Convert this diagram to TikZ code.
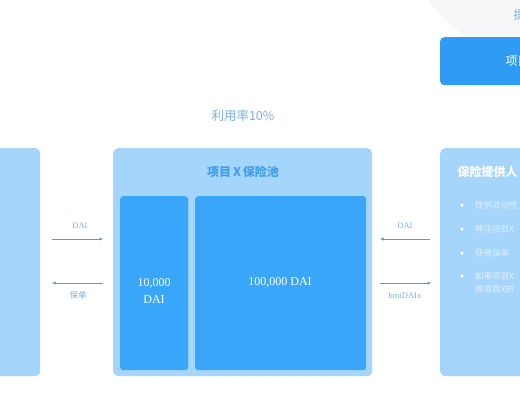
\documentclass[tikz,border=0pt]{standalone}
\usepackage{fontspec}
\setmainfont{Liberation Serif}
\newfontfamily\cjk{Noto Sans CJK SC}
\usetikzlibrary{arrows.meta}
\definecolor{lightbox}{RGB}{166,213,251}
\definecolor{innerbox}{RGB}{58,166,250}
\definecolor{topbtn}{RGB}{47,155,244}
\definecolor{titleblue}{RGB}{61,158,234}
\definecolor{labelblue}{RGB}{120,178,228}
\definecolor{arrowblue}{RGB}{100,150,205}
\definecolor{bggray}{RGB}{244,246,248}
\definecolor{bullettext}{RGB}{226,240,254}
\tikzset{
  panel/.style={fill=lightbox, rounded corners=5pt, draw=none, inner sep=0pt, anchor=north west},
  inner/.style={fill=innerbox, rounded corners=3pt, draw=none, inner sep=0pt, anchor=north west},
  lbl/.style={text=labelblue, font=\fontsize{8.5}{10}\selectfont, inner sep=1pt},
  cjklbl/.style={text=labelblue, font=\cjk\fontsize{8.5}{10}\selectfont, inner sep=1pt},
  flow/.style={draw=arrowblue, line width=0.7pt, -{Latex[length=3.5pt,width=3.5pt]}},
  bulletdot/.style={circle, fill=white, inner sep=0pt, minimum size=3.5pt},
  btext/.style={text=bullettext, font=\cjk\fontsize{8.5}{11}\selectfont, anchor=west, inner sep=0pt}
}
\begin{document}
\begin{tikzpicture}[x=1pt,y=-1pt]
\useasboundingbox (0,0) rectangle (520,400);
\clip (0,0) rectangle (520,400);
\fill[white] (0,0) rectangle (520,400);
% background gray circle
\fill[bggray] (562,-100) circle (167);
\node[text=labelblue, font=\cjk\fontsize{12}{14}\selectfont, anchor=west] (toptext) at (510,15) {提供};
% top button
\node[fill=topbtn, rounded corners=4pt, anchor=north west, minimum width=110pt, minimum height=48pt, inner sep=0pt] (btn) at (440,37) {};
\node[text=white, font=\cjk\fontsize{12}{14}\selectfont, anchor=west] (btntext) at (502,61) {项目X};
% utilisation
\node[text=labelblue, font=\cjk\fontsize{12.5}{14}\selectfont] (util) at (243,116) {利用率10\%};
% left panel
\node[panel, minimum width=60pt, minimum height=228pt] (left) at (-20,148) {};
% middle panel
\node[panel, minimum width=259pt, minimum height=228pt] (pool) at (113,148) {};
\node[text=titleblue, font=\cjk\bfseries\fontsize{12}{14}\selectfont] (pooltitle) at (243,172) {项目\,X\,保险池};
\node[inner, minimum width=68pt, minimum height=174pt] (small) at (120,196) {};
\node[inner, minimum width=171pt, minimum height=174pt] (big) at (195,196) {};
\node[text=white, font=\fontsize{12}{17}\selectfont, align=center] (smalltext) at (154,291) {10,000\\DAI};
\node[text=white, font=\fontsize{12}{14}\selectfont] (bigtext) at (280,282) {100,000 DAI};
% right panel
\node[panel, minimum width=120pt, minimum height=228pt] (right) at (440,148) {};
\node[text=white, font=\cjk\bfseries\fontsize{12}{14}\selectfont, anchor=west] (rtitle) at (454,172) {保险提供人};
\node[bulletdot] (b1) at (462,205) {};
\node[btext] (t1) at (475,205) {提供流动性};
\node[bulletdot] (b2) at (462,229) {};
\node[btext] (t2) at (475,229) {押注项目X};
\node[bulletdot] (b3) at (462,253) {};
\node[btext] (t3) at (475,253) {获得保单};
\node[bulletdot] (b4) at (462,276) {};
\node[btext] (t4) at (475,276) {如果项目X};
\node[btext] (t5) at (475,289) {得项目X的};
% arrows left
\coordinate (la1) at (52,239);
\coordinate (la2) at (103,239);
\coordinate (lb1) at (103,283);
\coordinate (lb2) at (52,283);
\draw[flow] (la1) -- (la2);
\draw[flow] (lb1) -- (lb2);
\node[lbl] (ldai) at (80,226) {DAI};
\node[cjklbl] (lpol) at (78,295) {保单};
% arrows right
\coordinate (ra1) at (430,239);
\coordinate (ra2) at (380,239);
\coordinate (rb1) at (380,283);
\coordinate (rb2) at (431,283);
\draw[flow] (ra1) -- (ra2);
\draw[flow] (rb1) -- (rb2);
\node[lbl] (rdai) at (405,226) {DAI};
\node[lbl] (rbmi) at (405,296) {bmiDAIx};
\end{tikzpicture}
\end{document}
